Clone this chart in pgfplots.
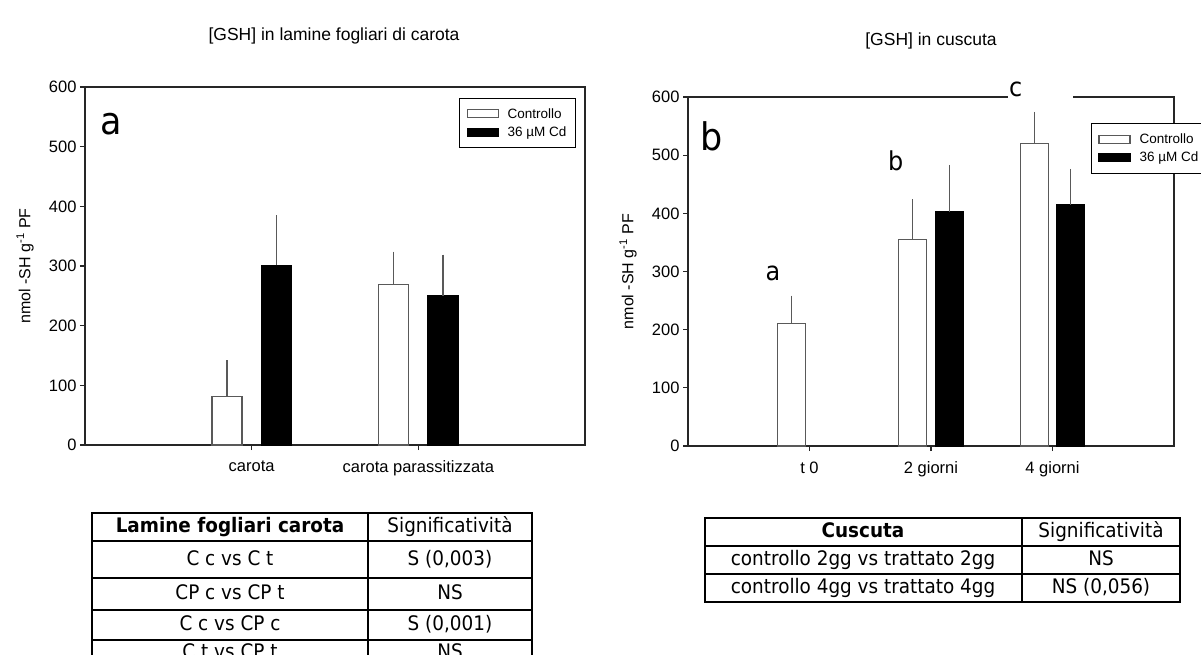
\documentclass[border=0pt]{standalone}
\usepackage{pgfplots}
\pgfplotsset{compat=1.18}
\usepackage{fontspec}
\setmainfont{Liberation Sans}
\newfontfamily\tabfont[FakeStretch=0.92]{DejaVu Sans}
\definecolor{axgray}{gray}{0.15}
\definecolor{bargray}{gray}{0.35}
\begin{document}
\begin{tikzpicture}[x=1pt,y=1pt]
\path[use as bounding box] (0,0) rectangle (1201,-655);
\clip (0,0) rectangle (1201,-655);
\pgfplotsset{
  panel/.style={
    scale only axis, ymin=0, ymax=600, ytick={0,100,...,600},
    tick pos=left, tick align=outside, major tick length=5pt,
    axis line style={line width=1.1pt, axgray},
    every tick/.style={line width=1.1pt, axgray},
    /pgf/number format/assume math mode=true,
    ticklabel style={font=\fontsize{16.5}{19}\selectfont},
    label style={font=\fontsize{16}{19}\selectfont},
    xticklabel style={yshift=-7pt},
    ylabel={nmol -SH g\textsuperscript{-1} PF},
    ybar, clip=false,
    legend image code/.code={\draw[##1] (0pt,-4pt) rectangle (31pt,4pt);},
    legend style={draw=black, line width=1pt, fill=white,
      font=\fontsize{13.5}{16}\selectfont, cells={anchor=west},
      inner xsep=7pt, inner ysep=8pt, row sep=3pt,
      /tikz/every odd column/.append style={column sep=7pt}},
  },
  ctrl/.style={fill=white, draw=bargray, line width=1.1pt,
    error bars/y dir=plus, error bars/y explicit,
    error bars/error bar style={line width=1.1pt, bargray},
    error bars/error mark options={line width=1.1pt, bargray, mark size=6pt}},
  cd/.style={fill=black, draw=black, line width=1.1pt,
    error bars/y dir=plus, error bars/y explicit,
    error bars/error bar style={line width=1.1pt, bargray},
    error bars/error mark options={line width=1.1pt, bargray, mark size=6pt}},
}

% ---------------- left panel ----------------
\begin{axis}[panel, at={(85pt,-445pt)}, anchor=south west,
  width=500pt, height=358pt,
  xmin=0, xmax=3, xtick={1,2}, xticklabels={carota, carota parassitizzata},
  bar width=0.18,
  ylabel style={at={(axis description cs:-0.12,0.5)}, anchor=center},
  legend style={at={(0.982,0.97)}, anchor=north east}]
\addplot[ctrl, bar shift=-0.148] coordinates {(1,81) +- (0,51) (2,269) +- (0,45)};
\addplot[cd, bar shift=0.148] coordinates {(1,301) +- (0,74) (2,250) +- (0,59)};
\legend{Controllo, 36 µM Cd}
\node[anchor=base, font=\tabfont\fontsize{38}{42}\selectfont] at (rel axis cs:0.052,0.868) {a};
\end{axis}

% ---------------- right panel ----------------
\begin{axis}[panel, at={(688pt,-446pt)}, anchor=south west,
  width=486pt, height=349pt,
  xmin=0, xmax=4, xtick={1,2,3}, xticklabels={t 0, 2 giorni, 4 giorni},
  bar width=0.23,
  ylabel style={at={(axis description cs:-0.1235,0.5)}, anchor=center},
  legend style={at={(0.829,0.9255)}, anchor=north west}]
\addplot[ctrl, bar shift=-0.15] coordinates {(1,210) +- (0,38) (2,355) +- (0,59) (3,520) +- (0,44)};
\addplot[cd, bar shift=0.15] coordinates {(2,403) +- (0,70) (3,415) +- (0,51)};
\legend{Controllo, 36 µM Cd}
\node[anchor=base, font=\tabfont\fontsize{38}{42}\selectfont] at (rel axis cs:0.049,0.848) {b};
\node[anchor=base, font=\tabfont\fontsize{26}{30}\selectfont] at (axis cs:0.70,285) {a};
\node[anchor=base, font=\tabfont\fontsize{26}{30}\selectfont] at (axis cs:1.71,474) {b};
\end{axis}
\fill[white] (1008,-80) rectangle (1073,-106);
\node[anchor=base west, inner sep=0pt, font=\tabfont\fontsize{26}{30}\selectfont] at (1009,-97) {c};

% ---------------- titles ----------------
\node[font=\fontsize{17.5}{20}\selectfont] at (334,-36) {[GSH] in lamine fogliari di carota};
\node[font=\fontsize{17.5}{20}\selectfont] at (931,-41) {[GSH] in cuscuta};

% ---------------- left table ----------------
\begin{scope}[line width=2pt]
\draw (92,-513) rectangle (532,-672);
\draw (368,-513) -- (368,-672);
\foreach \yy in {541,578,610,640} \draw (92,-\yy) -- (532,-\yy);
\end{scope}
\tikzset{tt/.style={font=\tabfont\fontsize{20}{24}\selectfont, text height=14pt, text depth=4pt, inner sep=0pt}}
\node[tt, font=\tabfont\bfseries\fontsize{20}{24}\selectfont] at (230,-527) {Lamine fogliari carota};
\node[tt] at (450,-527) {Significatività};
\node[tt] at (230,-560) {C c vs C t};
\node[tt] at (450,-560) {S (0,003)};
\node[tt] at (230,-594) {CP c vs CP t};
\node[tt] at (450,-594) {NS};
\node[tt] at (230,-625) {C c vs CP c};
\node[tt] at (450,-625) {S (0,001)};
\node[tt] at (230,-653) {C t vs CP t};
\node[tt] at (450,-653) {NS};

% ---------------- right table ----------------
\begin{scope}[line width=2pt]
\draw (705,-518) rectangle (1180,-602);
\draw (1022,-518) -- (1022,-602);
\draw (705,-546) -- (1180,-546);
\draw (705,-574) -- (1180,-574);
\end{scope}
\node[tt, font=\tabfont\bfseries\fontsize{20}{24}\selectfont] at (863,-532) {Cuscuta};
\node[tt] at (1101,-532) {Significatività};
\node[tt] at (863,-560) {controllo 2gg vs trattato 2gg};
\node[tt] at (1101,-560) {NS};
\node[tt] at (863,-588) {controllo 4gg vs trattato 4gg};
\node[tt] at (1101,-588) {NS (0,056)};
\end{tikzpicture}
\end{document}
